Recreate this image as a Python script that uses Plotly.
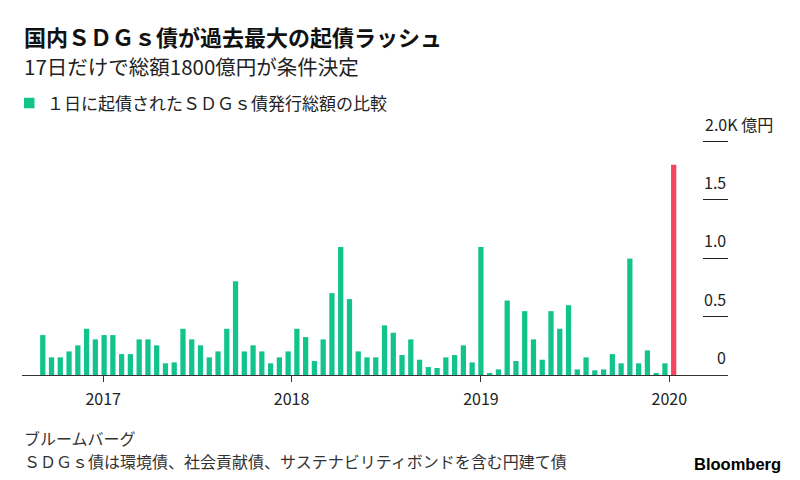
import plotly.graph_objects as go

# ---- data (億円) ----
values = [342, 151, 151, 202, 254, 396, 305, 342, 342, 179, 179, 305, 305, 254, 100,
          108, 396, 305, 254, 151, 202, 396, 803, 202, 254, 202, 100, 151, 202, 396,
          325, 120, 305, 701, 1097, 650, 202, 151, 151, 425, 362, 171, 305, 131, 68,
          60, 151, 171, 254, 108, 1097, 17, 48, 638, 120, 547, 305, 131, 547, 396,
          598, 48, 151, 40, 48, 179, 100, 997, 100, 211, 17, 100, 1800]
issue_index = list(range(len(values)))
highlight_index = len(values) - 1
year_labels = ["2017", "2018", "2019", "2020"]
year_positions = [6.9, 28.4, 50.0, 71.5]
y_tickvals = [0, 500, 1000, 1500, 2000]
y_ticktext = ["0", "0.5", "1.0", "1.5", "2.0K 億円"]
y_max = 2030

GREEN = "#12C48B"
RED = "#F7455F"
FONT = "Noto Sans CJK JP"

colors = [RED if i == highlight_index else GREEN for i in issue_index]

# plot area geometry (pixels): 0 at y=375, 2000 at y=141.7
L, R, B = 22, 728, 375
T = B - (B - 141.7) * y_max / 2000
W, H = 800, 480


def px_x(px):
    return (px - L) / (R - L)


def px_y(py):
    return (B - py) / (B - T)


fig = go.Figure()
fig.add_trace(go.Bar(x=issue_index, y=values, marker=dict(color=colors, line=dict(width=0)),
                     showlegend=False, hoverinfo="y"))

fig.update_layout(
    width=W, height=H,
    margin=dict(l=L, r=W - R, t=T, b=H - B),
    paper_bgcolor="white", plot_bgcolor="white",
    bargap=0.4,
    font=dict(family=FONT, color="#222"),
    xaxis=dict(range=[-2.37, 78.2], tickmode="array", tickvals=year_positions,
               ticktext=year_labels, ticks="outside", ticklen=6, tickcolor="#333",
               showline=True, linecolor="#333", linewidth=1, showgrid=False,
               zeroline=False, ticklabelstandoff=4,
               tickfont=dict(size=16, color="#222", family=FONT)),
    yaxis=dict(range=[0, y_max], side="right", tickmode="array", tickvals=y_tickvals,
               showticklabels=False, ticks="inside", ticklen=25, tickcolor="#222",
               tickwidth=1, showgrid=False, zeroline=False, showline=False),
)

ann = []
# y tick labels above the short tick lines
for v, t in zip(y_tickvals, y_ticktext):
    if v == 2000:
        ann.append(dict(x=px_x(703), xref="paper", xanchor="left", y=v, yref="y",
                        yanchor="bottom", yshift=4, text=t, showarrow=False,
                        font=dict(size=16, color="#222", family=FONT)))
    else:
        ann.append(dict(x=1, xref="paper", xanchor="right", y=v, yref="y",
                        yanchor="bottom", yshift=4, text=t, showarrow=False,
                        font=dict(size=16, color="#222", family=FONT)))

# title, subtitle, legend, footer
ann.append(dict(x=px_x(22), y=px_y(36.5), xref="paper", yref="paper", xanchor="left",
                yanchor="middle", showarrow=False,
                text="<b>国内ＳＤＧｓ債が過去最大の起債ラッシュ</b>",
                font=dict(size=22, color="#111", family=FONT)))
ann.append(dict(x=px_x(22), y=px_y(66), xref="paper", yref="paper", xanchor="left",
                yanchor="middle", showarrow=False,
                text="17日だけで総額1800億円が条件決定",
                font=dict(size=20.5, color="#222", family=FONT)))
ann.append(dict(x=px_x(45), y=px_y(103), xref="paper", yref="paper", xanchor="left",
                yanchor="middle", showarrow=False,
                text="１日に起債されたＳＤＧｓ債発行総額の比較",
                font=dict(size=17, color="#222", family=FONT)))
ann.append(dict(x=px_x(22), y=px_y(438), xref="paper", yref="paper", xanchor="left",
                yanchor="middle", showarrow=False, text="ブルームバーグ",
                font=dict(size=16, color="#333", family=FONT)))
ann.append(dict(x=px_x(22), y=px_y(461), xref="paper", yref="paper", xanchor="left",
                yanchor="middle", showarrow=False,
                text="ＳＤＧｓ債は環境債、社会貢献債、サステナビリティボンドを含む円建て債",
                font=dict(size=16, color="#333", family=FONT)))
ann.append(dict(x=px_x(783), y=px_y(464), xref="paper", yref="paper", xanchor="right",
                yanchor="middle", showarrow=False, text="<b>Bloomberg</b>",
                font=dict(size=16.5, color="#000", family="Liberation Sans")))
fig.update_layout(annotations=ann)

# legend swatch
fig.add_shape(type="rect", xref="paper", yref="paper",
              x0=px_x(24), x1=px_x(34.5), y0=px_y(108.5), y1=px_y(98),
              fillcolor=GREEN, line=dict(width=0))

fig.write_html("out.html")
